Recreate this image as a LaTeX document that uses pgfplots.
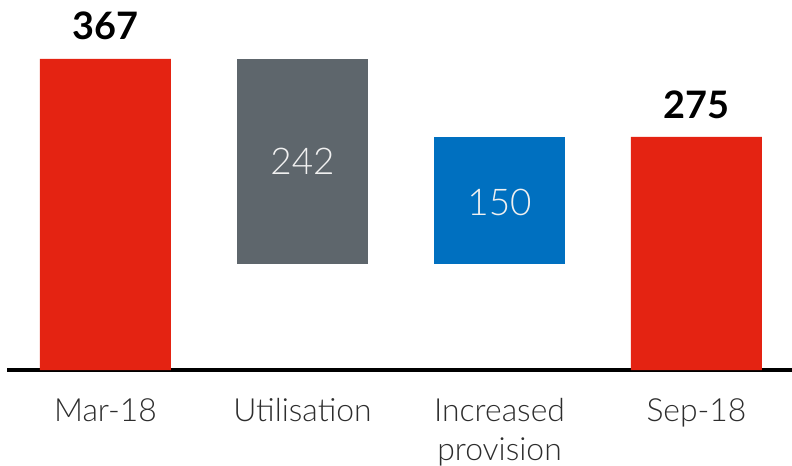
\documentclass[border=0pt]{standalone}
\usepackage{pgfplots}
\pgfplotsset{compat=1.18}
\usepackage{fontspec}
\setmainfont{Lato}
\newfontfamily\lightfont{Lato Light}
\newfontfamily\boldfont{Lato Bold}
\definecolor{cred}{RGB}{228,35,18}
\definecolor{cgray}{RGB}{94,102,108}
\definecolor{cblue}{RGB}{0,112,192}
\definecolor{ctext}{RGB}{45,45,45}
\begin{document}
\begin{tikzpicture}
\path[use as bounding box] (0,0) rectangle (792bp,466bp);
\begin{axis}[
  at={(7bp,96bp)}, anchor=south west,
  scale only axis, width=785bp, height=370bp,
  xmin=-0.5, xmax=3.485, ymin=0, ymax=436.6,
  axis lines*=left,
  y axis line style={draw=none},
  x axis line style={-, line width=3bp, black},
  ytick=\empty,
  xtick={0,1,2,3},
  xticklabels={Mar-18, Utilisation, {Increased\\provision}, Sep-18},
  xticklabel style={align=center, font=\lightfont\fontsize{32}{39}\selectfont, text=ctext, yshift=-25bp},
  major tick length=0pt,
  ybar stacked, bar width=131bp,
  clip=false,
]
\addplot[draw=none, fill=none] coordinates {(0,0) (1,125) (2,125) (3,0)};
\addplot[draw=none, fill=cred] coordinates {(0,367) (1,0) (2,0) (3,275)};
\addplot[draw=none, fill=cgray] coordinates {(0,0) (1,242) (2,0) (3,0)};
\addplot[draw=none, fill=cblue] coordinates {(0,0) (1,0) (2,150) (3,0)};
\coordinate (l0) at (axis cs:0,406);
\coordinate (l3) at (axis cs:3,313);
\coordinate (l1) at (axis cs:1,246);
\coordinate (l2) at (axis cs:2,198);
\end{axis}
\node[font=\boldfont\fontsize{38}{44}\selectfont, text=black] at (l0) {367};
\node[font=\boldfont\fontsize{38}{44}\selectfont, text=black] at (l3) {275};
\node[font=\lightfont\fontsize{37}{44}\selectfont, text=white!94!black] at (l1) {242};
\node[font=\lightfont\fontsize{37}{44}\selectfont, text=white!94!black] at (l2) {150};
\end{tikzpicture}
\end{document}
